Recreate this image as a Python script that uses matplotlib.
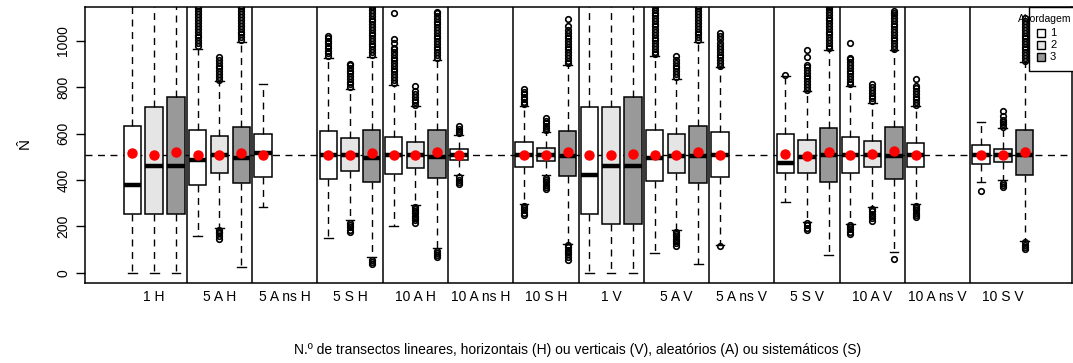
import matplotlib
matplotlib.use('Agg')
import matplotlib.pyplot as plt
from matplotlib.patches import Rectangle

plt.rcParams['font.family'] = ['Liberation Sans', 'DejaVu Sans']
plt.rcParams['mathtext.fontset'] = 'custom'
plt.rcParams['mathtext.rm'] = 'Liberation Sans'

# groups along the x axis and which approaches (abordagens) each one has
group_labels = ['1 H', '5 A H', '5 A ns H', '5 S H', '10 A H', '10 A ns H', '10 S H',
                '1 V', '5 A V', '5 A ns V', '5 S V', '10 A V', '10 A ns V', '10 S V']
group_approaches = [[1, 2, 3], [1, 2, 3], [1], [1, 2, 3], [1, 2, 3], [1], [1, 2, 3],
                    [1, 2, 3], [1, 2, 3], [1], [1, 2, 3], [1, 2, 3], [1], [1, 2, 3]]

true_n = 510

# box summaries, one entry per box in group order
q1 = [252, 252, 252, 379, 430, 388, 412, 405, 438, 393, 425, 452, 408, 486, 454, 483, 418,
      252, 210, 210, 395, 430, 388, 412, 430, 430, 393, 432, 454, 404, 454, 471, 478, 421]
med = [379, 462, 462, 488, 506, 497, 516, 508, 508, 496, 508, 508, 501, 509, 509, 509, 504,
       421, 462, 462, 496, 504, 505, 508, 473, 500, 509, 508, 508, 504, 509, 509, 509, 509]
q3 = [631, 715, 758, 614, 588, 630, 597, 612, 581, 615, 586, 563, 615, 535, 563, 540, 611,
      716, 716, 758, 614, 597, 631, 605, 597, 572, 624, 586, 568, 627, 559, 549, 535, 614]
whis_lo = [0, 0, 0, 159, 192, 26, 285, 151, 228, 66, 202, 291, 105, 422, 296, 422, 124,
           0, 0, 0, 84, 185, 40, 120, 304, 220, 75, 210, 285, 89, 297, 391, 399, 137]
whis_hi = [1190, 1190, 1190, 967, 825, 994, 815, 926, 793, 931, 810, 717, 919, 595, 720, 609, 895,
           1190, 1190, 1190, 934, 836, 994, 886, 850, 782, 959, 804, 732, 959, 717, 651, 624, 909]
means = [516, 507, 520, 509, 509, 516, 509, 510, 508, 517, 510, 510, 520, 510, 510, 509, 519,
         506, 506, 513, 510, 508, 519, 508, 513, 503, 519, 510, 511, 523, 508, 510, 508, 522]

# outlying estimates below and above the whiskers
out_low = [
    [], [], [],
    [], [144, 158, 170, 178, 186], [],
    [],
    [], [176, 186, 196, 206, 216], [36, 45, 55],
    [], [216, 226, 236, 246, 256, 266, 276, 285], [68, 76, 86, 96],
    [382, 392, 402, 412],
    [249, 259, 269, 279, 289], [360, 370, 380, 390, 400, 410], [55, 68, 80, 90, 100, 110, 118],
    [], [], [],
    [], [117, 127, 137, 147, 157, 167, 177], [],
    [115],
    [], [185, 195, 205, 213], [],
    [167, 177, 187, 197, 205], [225, 235, 245, 255, 265, 277], [59],
    [239, 249, 259, 269, 279, 289],
    [354], [369, 379, 389], [101, 111, 121, 131],
]
out_high = [
    [], [], [],
    [978, 990, 1002, 1015, 1027, 1040, 1052, 1065, 1078, 1090, 1103, 1115, 1128, 1140, 1152],
    [833, 845, 857, 869, 881, 893, 905, 917, 929],
    [1003, 1015, 1028, 1040, 1053, 1065, 1078, 1090, 1103, 1115, 1128, 1140, 1152],
    [],
    [935, 946, 957, 968, 979, 990, 1001, 1012, 1020],
    [800, 812, 824, 836, 848, 860, 872, 884, 895, 902],
    [940, 952, 964, 976, 988, 1000, 1012, 1024, 1036, 1048, 1060, 1072, 1084, 1096, 1108,
     1120, 1132, 1144, 1152],
    [820, 832, 844, 856, 868, 880, 892, 904, 916, 928, 940, 952, 964, 970, 992, 1009, 1118],
    [725, 736, 747, 758, 769, 782, 804],
    [927, 939, 951, 963, 975, 987, 999, 1011, 1023, 1035, 1047, 1059, 1071, 1083, 1095,
     1107, 1118, 1125],
    [602, 612, 622, 631],
    [726, 737, 748, 759, 770, 781, 793],
    [615, 625, 635, 645, 655, 667],
    [903, 915, 927, 939, 951, 963, 975, 987, 999, 1011, 1023, 1035, 1047, 1063, 1096],
    [], [], [],
    [942, 954, 966, 978, 990, 1002, 1014, 1026, 1038, 1050, 1062, 1074, 1086, 1098, 1110,
     1122, 1134, 1146, 1155],
    [845, 857, 869, 881, 893, 905, 917, 933],
    [1003, 1015, 1028, 1040, 1053, 1065, 1078, 1090, 1103, 1115, 1128, 1140, 1152],
    [893, 905, 917, 929, 941, 953, 965, 977, 989, 1006, 1020, 1035],
    [854],
    [790, 802, 814, 826, 838, 850, 862, 874, 886, 898, 931, 962],
    [968, 980, 992, 1004, 1016, 1028, 1040, 1052, 1064, 1076, 1088, 1100, 1112, 1124, 1136,
     1148, 1155],
    [812, 824, 836, 848, 860, 872, 884, 896, 908, 920, 926, 991],
    [740, 752, 764, 776, 788, 800, 815],
    [966, 978, 990, 1002, 1014, 1026, 1038, 1050, 1062, 1074, 1086, 1098, 1110, 1122, 1128],
    [724, 736, 748, 760, 772, 784, 796, 804, 837],
    [],
    [630, 640, 650, 660, 674, 696],
    [915, 927, 939, 951, 963, 975, 987, 999, 1011, 1023, 1035, 1047, 1059, 1071, 1085, 1100],
]

approach_labels = ['1', '2', '3']
approach_colors = ['white', '#e5e5e5', '#999999']

# 3 slots per group; single-approach groups use the first slot
positions, box_colors = [], []
for g, appr in enumerate(group_approaches):
    for a in appr:
        positions.append(3 * g + a)
        box_colors.append(approach_colors[a - 1])

stats = []
for i in range(len(positions)):
    stats.append(dict(q1=q1[i], med=med[i], q3=q3[i], whislo=whis_lo[i], whishi=whis_hi[i],
                      mean=means[i], fliers=out_low[i] + out_high[i]))

fig = plt.figure(figsize=(10.73, 3.63), dpi=100)
ax = fig.add_axes([85 / 1073, 80 / 363, 987 / 1073, 276 / 363])

n_slots = 3 * len(group_labels)
ax.axhline(true_n, color='black', lw=1, linestyle=(0, (5, 4)), zorder=1)
for g in range(1, len(group_labels)):
    ax.axvline(3 * g + 0.5, color='black', lw=1.1, zorder=1)

bp = ax.bxp(stats, positions=positions, widths=0.8, capwidths=0.4, patch_artist=True,
            showmeans=True,
            boxprops=dict(edgecolor='black', linewidth=1.1),
            whiskerprops=dict(color='black', linewidth=1, linestyle=(0, (5, 4))),
            capprops=dict(color='black', linewidth=1),
            medianprops=dict(color='black', linewidth=3.2, solid_capstyle='butt'),
            meanprops=dict(marker='o', markerfacecolor='red', markeredgecolor='red',
                           markersize=6.5, zorder=5),
            flierprops=dict(marker='o', markerfacecolor='none', markeredgecolor='black',
                            markersize=4, markeredgewidth=1.2, linestyle='none'))
for patch, c in zip(bp['boxes'], box_colors):
    patch.set_facecolor(c)

pad = 0.04 * n_slots
ax.set_xlim(0.5 - pad, n_slots + 0.5 + pad)
ax.set_ylim(-44, 1146)

ax.set_xticks([3 * g + 2 for g in range(len(group_labels))])
ax.set_xticklabels(group_labels, fontsize=10)
ax.tick_params(axis='x', length=0, pad=5)
ax.set_yticks([0, 200, 400, 600, 800, 1000])
ax.set_yticklabels(['0', '200', '400', '600', '800', '1000'], rotation=90, va='center', fontsize=10)
ax.tick_params(axis='y', length=6.5, width=1, pad=4)
for s in ax.spines.values():
    s.set_linewidth(1.1)

fig.text(25 / 1073, 1 - 145 / 363, r'$\hat{\mathrm{N}}$', rotation=90, fontsize=11,
         ha='center', va='center')
fig.text(578 / 1073, 1 - 350 / 363,
         'N.º de transectos lineares, horizontais (H) ou verticais (V), aleatórios (A) ou sistemáticos (S)',
         fontsize=10, ha='center', va='center')

# legend box, partly running past the right edge
lx0 = (1029 - 85) / 987
ly0 = 1 - (71 - 7) / 276
ax.add_patch(Rectangle((lx0, ly0), 0.1, 1 - ly0, transform=ax.transAxes, facecolor='white',
                       edgecolor='black', lw=1, zorder=6, clip_on=False))
ax.text((1071 - 85) / 987, 1 - (19 - 7) / 276, 'Abordagem', transform=ax.transAxes,
        fontsize=7.5, ha='right', va='center', zorder=7)
for k, (lab, c) in enumerate(zip(approach_labels, approach_colors)):
    yk = 1 - (33 + 12 * k - 7) / 276
    ax.plot([(1041 - 85) / 987], [yk], marker='s', ms=6, mfc=c, mec='black', mew=1,
            transform=ax.transAxes, clip_on=False, zorder=7)
    ax.text((1050 - 85) / 987, yk, lab, transform=ax.transAxes, fontsize=8,
            ha='left', va='center', zorder=7)

fig.savefig('out.png', dpi=100)
